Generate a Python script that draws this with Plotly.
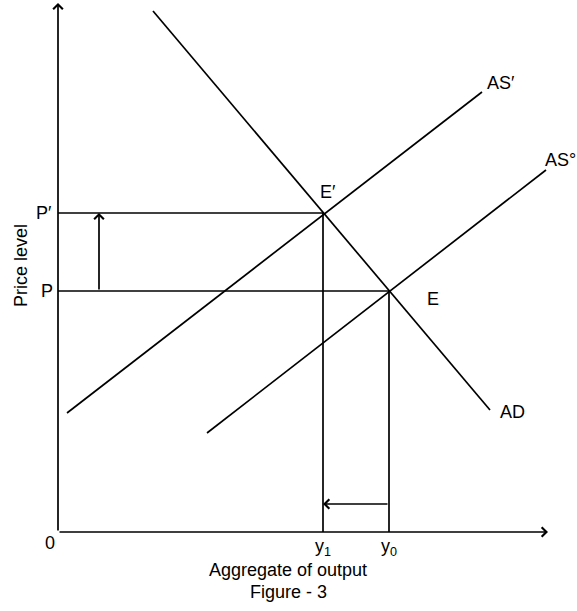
import plotly.graph_objects as go

# Equilibrium values (data units)
Y0, Y1 = 331, 265          # output levels
P0, P1 = 241, 319          # price levels P and P'
# Curve end points
AD_x = [95, 432];   AD_y = [521, 122]
ASp_x = [9, 424];   ASp_y = [119, 440]      # AS'
AS0_x = [149, 488]; AS0_y = [99, 362]       # AS°
X_AXIS_END = 490
Y_AXIS_END = 529
SHIFT_ARROW_X = 41          # x of the upward arrow P -> P'
SHIFT_ARROW_Y = 28          # y of the leftward arrow y0 -> y1

FONT = "Liberation Sans, Arial, sans-serif"
LW = 1.7
fig = go.Figure()

def seg(xs, ys):
    fig.add_trace(go.Scatter(x=xs, y=ys, mode="lines",
                             line=dict(color="black", width=LW),
                             hoverinfo="skip", showlegend=False))

seg(AD_x, AD_y)
seg(ASp_x, ASp_y)
seg(AS0_x, AS0_y)
# guide lines
seg([0, Y1], [P1, P1])
seg([Y1, Y1], [0, P1])
seg([0, Y0], [P0, P0])
seg([Y0, Y0], [0, P0])

def arrow(x0, y0, x1, y1):
    fig.add_annotation(x=x1, y=y1, ax=x0, ay=y0, xref="x", yref="y",
                       axref="x", ayref="y", text="", showarrow=True,
                       arrowhead=4, arrowsize=1.1, arrowwidth=LW,
                       arrowcolor="black", standoff=0, startstandoff=0)

arrow(0, 0, 0, Y_AXIS_END)
arrow(0, 0, X_AXIS_END, 0)
arrow(SHIFT_ARROW_X, P0, SHIFT_ARROW_X, P1)
arrow(Y0, SHIFT_ARROW_Y, Y1, SHIFT_ARROW_Y)

def label(x, y, t, xa="center", ya="middle", size=18):
    fig.add_annotation(x=x, y=y, xref="x", yref="y", text=t, showarrow=False,
                       xanchor=xa, yanchor=ya,
                       font=dict(family=FONT, size=size, color="black"))

label(-8, -11, "0")
label(-4, P1, "P′", xa="right")
label(-3, P0, "P", xa="right")
label(270, 340, "E′")
label(375, 233, "E")
label(427, 449, "AS′", xa="left")
label(485, 372, "AS°", xa="left")
label(440, 120, "AD", xa="left")
label(Y1, -15, "y<sub>1</sub>")
label(Y0, -15, "y<sub>0</sub>")
label(230, -38, "Aggregate of output", size=18)
label(230, -60, "Figure - 3", size=18)
fig.add_annotation(x=-37, y=266, xref="x", yref="y", text="Price level",
                   showarrow=False, textangle=-90,
                   font=dict(family=FONT, size=18, color="black"))

fig.update_layout(width=577, height=611, margin=dict(l=0, r=0, t=0, b=0),
                  paper_bgcolor="white", plot_bgcolor="white",
                  xaxis=dict(range=[-58, 519], visible=False, fixedrange=True),
                  yaxis=dict(range=[-79, 532], visible=False, fixedrange=True))
fig.write_html("out.html", config={"displayModeBar": False},
               post_script="document.body.style.margin='0';"
                           "document.body.style.overflow='hidden';")
